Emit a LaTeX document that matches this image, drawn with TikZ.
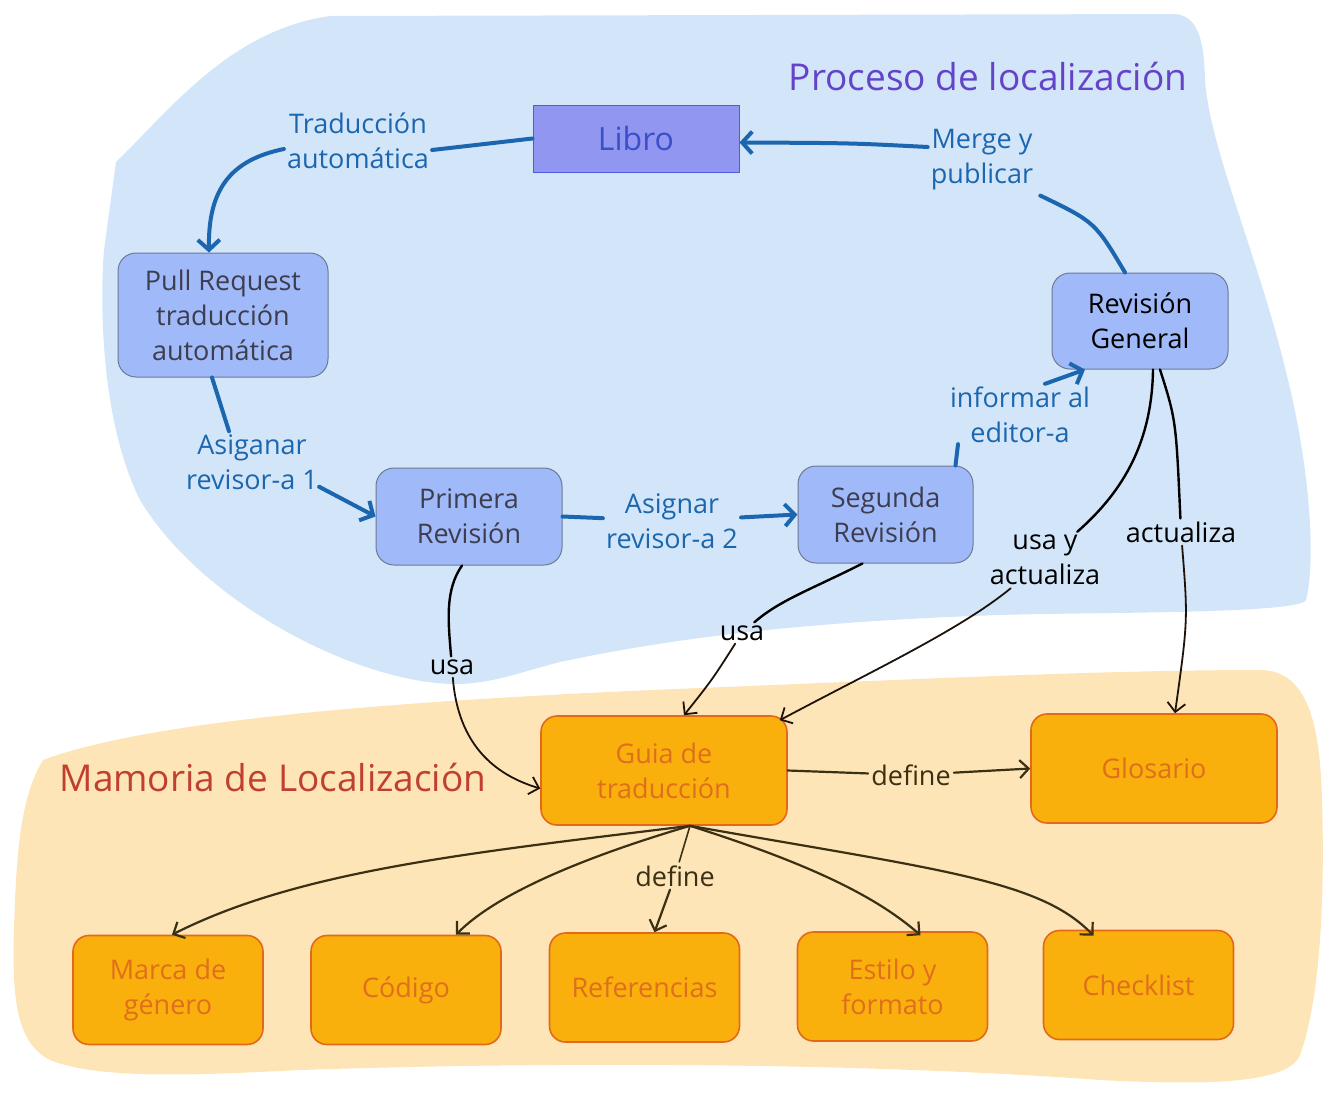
\documentclass[tikz,border=0pt]{standalone}
\usepackage{fontspec}
\setmainfont{Open Sans}
\usetikzlibrary{arrows.meta}
\definecolor{bluebg}{HTML}{D3E6F9}
\definecolor{orangebg}{HTML}{FDE5B7}
\definecolor{procfill}{HTML}{A0B9F8}
\definecolor{procline}{HTML}{6B7A95}
\definecolor{proctext}{HTML}{3D3D4F}
\definecolor{librofill}{HTML}{9196F1}
\definecolor{libroline}{HTML}{4C5DE0}
\definecolor{librotext}{HTML}{3A4FC8}
\definecolor{flowblue}{HTML}{1B66AE}
\definecolor{memofill}{HTML}{F9B00C}
\definecolor{memoline}{HTML}{E2691A}
\definecolor{memotext}{HTML}{DF6E1D}
\definecolor{titlepurple}{HTML}{6543C9}
\definecolor{titlered}{HTML}{C0402F}
\definecolor{darkline}{HTML}{3A3013}
\begin{document}
\begin{tikzpicture}[x=1pt,y=-1pt,
  txt/.style={font=\fontsize{27}{35}\selectfont, align=center},
  procbox/.style={txt, draw=procline, fill=procfill, line width=1pt, rounded corners=18pt, text=proctext, inner sep=0pt},
  memobox/.style={txt, draw=memoline, fill=memofill, line width=1.6pt, rounded corners=16pt, text=memotext, minimum width=190pt, minimum height=109pt, inner sep=0pt},
  bluelbl/.style={txt, text=flowblue, inner sep=3pt},
  blklbl/.style={txt, text=black, inner sep=3pt},
  brnlbl/.style={txt, text=darkline, inner sep=3pt},
  bluepath/.style={draw=flowblue, line width=4pt, line cap=round},
  bluearrow/.style={bluepath, -{Straight Barb[length=10pt,width=22pt]}},
  blkpath/.style={draw=black, line width=2.4pt, line cap=round},
  blkarrow/.style={draw=black!85!brown, line width=1.8pt, line cap=round, -{Straight Barb[length=9pt,width=18pt]}},
  brnarrow/.style={draw=darkline, line width=2.2pt, line cap=round, -{Straight Barb[length=9pt,width=18pt]}},
  title/.style={font=\fontsize{37}{40}\selectfont}
]
\useasboundingbox (0,0) rectangle (1330,1093);
% backgrounds
\fill[orangebg] (43,760) .. controls (150,720) and (400,700) .. (700,688)
  .. controls (900,680) and (1100,670) .. (1260,670)
  .. controls (1310,670) and (1320,730) .. (1322,800)
  .. controls (1325,900) and (1320,1000) .. (1300,1055)
  .. controls (1288,1085) and (1200,1085) .. (1100,1080)
  .. controls (900,1065) and (600,1060) .. (300,1070)
  .. controls (200,1075) and (100,1080) .. (50,1060)
  .. controls (10,1040) and (12,980) .. (15,900)
  .. controls (18,830) and (25,790) .. (43,760) -- cycle;
\fill[bluebg] (116,162) .. controls (170,110) and (230,30) .. (330,16)
  -- (1175,14) .. controls (1198,16) and (1204,40) .. (1205,80)
  .. controls (1210,150) and (1260,260) .. (1288,380)
  .. controls (1310,470) and (1316,560) .. (1306,600)
  .. controls (1300,614) and (1100,612) .. (1000,615)
  .. controls (850,620) and (700,632) .. (560,662)
  .. controls (520,672) and (490,685) .. (450,684)
  .. controls (350,680) and (200,600) .. (140,500)
  .. controls (100,420) and (100,300) .. (104,250) -- cycle;
% titles
\node[title, text=titlepurple] (t1) at (988,77) {Proceso de localización};
\node[title, text=titlered] (t2) at (273,777) {Mamoria de Localización};
% process nodes
\node[txt, font=\fontsize{32}{36}\selectfont, draw=libroline, fill=librofill, line width=1pt, text=librotext, minimum width=206pt, minimum height=67pt, inner sep=0pt] (libro) at (636,138.5) {Libro};
\node[procbox, minimum width=210pt, minimum height=124pt] (pr) at (223,315) {Pull Request\\traducción\\automática};
\node[procbox, minimum width=186pt, minimum height=97pt] (prim) at (469,516.5) {Primera\\Revisión};
\node[procbox, minimum width=175pt, minimum height=97pt] (seg) at (885.5,514.5) {Segunda\\Revisión};
\node[procbox, text=black, minimum width=176pt, minimum height=96pt] (gen) at (1140,321) {Revisión\\General};
% memory nodes
\node[memobox, minimum width=246pt] (guia) at (664,770.5) {Guia de\\traducción};
\node[memobox, minimum width=246pt] (glos) at (1154,768.5) {Glosario};
\node[memobox] (marca) at (168,990) {Marca de\\género};
\node[memobox] (codigo) at (406,990) {Código};
\node[memobox] (refs) at (644.5,987.5) {Referencias};
\node[memobox] (estilo) at (892.5,986.5) {Estilo y\\formato};
\node[memobox] (check) at (1138.5,985) {Checklist};
% labels
\node[bluelbl] (l1) at (358,141) {Traducción\\automática};
\node[bluelbl] (l2) at (252,462) {Asiganar\\revisor-a 1};
\node[bluelbl] (l3) at (672,521) {Asignar\\revisor-a 2};
\node[bluelbl] (l4) at (1020,415) {informar al\\editor-a};
\node[bluelbl] (l5) at (982,160) {Merge y\\publicar};
\node[blklbl] (l6) at (452,667) {usa};
\node[blklbl] (l7) at (742,633) {usa};
\node[blklbl] (l8) at (1045,560) {usa y\\actualiza};
\node[blklbl] (l9) at (1181,532) {actualiza};
\node[brnlbl] (l10) at (911,775) {define};
\node[brnlbl] (l11) at (675,876) {define};
% blue flow
\draw[bluepath] (libro.west) -- (l1.east |- 0,150);
\draw[bluearrow] ([yshift=-8pt]l1.west) .. controls (230,160) and (208,190) .. ([xshift=-14pt]pr.north);
\draw[bluepath] ([xshift=-11pt]pr.south) -- ([xshift=-23pt]l2.north);
\draw[bluearrow] ([xshift=-2pt,yshift=6pt]l2.south east) -- (prim.west);
\draw[bluepath] (prim.east) -- (l3);
\draw[bluearrow] (l3) -- (seg.west);
\draw[bluepath] ([xshift=70pt]seg.north) -- ([xshift=-62pt,yshift=2pt]l4.south);
\draw[bluearrow] ([xshift=25pt]l4.north) -- ([xshift=-55pt]gen.south);
\draw[bluepath] ([xshift=-15pt]gen.north) .. controls (1095,222) .. ([xshift=4pt,yshift=-2pt]l5.south east);
\draw[bluearrow] ([yshift=13pt]l5.west) .. controls (850,143) .. ([yshift=-4pt]libro.east);
% black uses
\draw[blkpath] ([xshift=-7pt]prim.south) .. controls (445,590) and (448,620) .. (l6);
\draw[blkarrow] (l6) .. controls (458,745) and (495,775) .. ([yshift=-18pt]guia.west);
\draw[blkpath] ([xshift=-23pt]seg.south) .. controls (810,590) and (780,600) .. (l7);
\draw[blkarrow] (l7) .. controls (712,680) .. ([xshift=20pt]guia.north);
\draw[blkpath] ([xshift=13pt]gen.south) .. controls (1152,440) and (1125,490) .. (l8);
\draw[blkarrow] (l8) .. controls (960,630) and (870,672) .. ([xshift=-8pt,yshift=-5pt]guia.north east);
\draw[blkpath] ([xshift=20pt]gen.south) .. controls (1176,420) .. (l9);
\draw[blkarrow] (l9) .. controls (1188,620) .. ([xshift=21pt]glos.north);
% define
\draw[brnarrow] (guia.east) -- (l10) -- (glos.west);
\coordinate (gb) at ([xshift=26pt]guia.south);
\draw[brnarrow] (gb) .. controls (470,853) and (300,870) .. ([xshift=4pt]marca.north);
\draw[brnarrow] (gb) .. controls (598,853) and (500,890) .. ([xshift=50pt]codigo.north);
\draw[draw=darkline, line width=1.6pt] (gb) -- (l11);
\draw[brnarrow] (l11) -- ([xshift=10pt]refs.north);
\draw[brnarrow] (gb) .. controls (820,867) and (880,900) .. ([xshift=28pt,yshift=-4pt]estilo.north);
\draw[brnarrow] (gb) .. controls (940,870) and (1040,880) .. ([xshift=-45pt,yshift=-6pt]check.north);
\end{tikzpicture}
\end{document}
